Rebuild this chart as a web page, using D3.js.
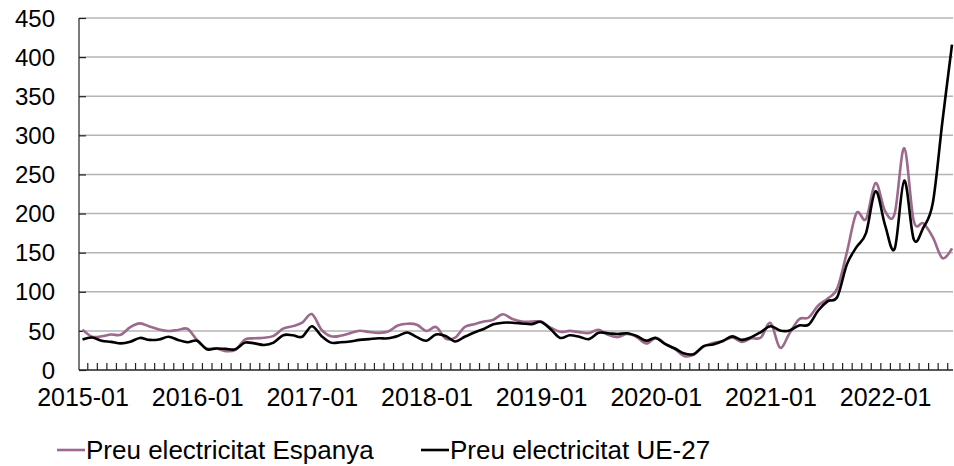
<!DOCTYPE html>
<html>
<head>
<meta charset="utf-8">
<script src="https://cdn.jsdelivr.net/npm/d3@7"></script>
<style>
  html, body { margin: 0; padding: 0; background: #fff; }
  svg { display: block; font-family: "Liberation Sans", Arial, sans-serif; }
</style>
</head>
<body>
<svg id="chart" width="954" height="466"></svg>
<script>
// Monthly categories, 2015-01 .. 2022-08
const years = [2015, 2016, 2017, 2018, 2019, 2020, 2021, 2022];
const monthNums = ["01","02","03","04","05","06","07","08","09","10","11","12"];
const categories = [];
years.forEach(y => monthNums.forEach(m => categories.push(y + "-" + m)));
categories.splice(92); // last month shown: 2022-08

const tickLabels = ["2015-01","2016-01","2017-01","2018-01","2019-01","2020-01","2021-01","2022-01"];
const yTicks = [0, 50, 100, 150, 200, 250, 300, 350, 400, 450];

// Spain, €/MWh
const spain = [
  51.6, 42.6, 43.1, 45.3, 45.1, 54.7, 59.6, 55.6, 51.9, 49.9, 51.2, 52.6,
  38.0, 27.5, 27.8, 24.1, 25.8, 38.9, 40.5, 41.2, 43.6, 52.8, 56.1, 60.5,
  71.5, 51.7, 43.2, 43.7, 47.1, 50.2, 48.6, 47.5, 49.2, 56.8, 59.2, 57.9,
  49.9, 54.9, 40.2, 41.5, 54.9, 58.5, 61.9, 64.3, 71.3, 65.1, 62.0, 61.8,
  61.9, 54.0, 48.8, 50.0, 48.4, 47.2, 51.5, 44.9, 42.1, 46.0, 42.2, 33.8,
  41.1, 33.5, 26.8, 17.7, 19.8, 30.0, 34.6, 36.8, 41.6, 36.0, 40.5, 41.5,
  60.2, 28.5, 47.0, 65.0, 67.1, 82.5, 91.5, 104.5, 150.5, 200.5, 193.0, 239.0,
  203.0, 200.0, 283.5, 190.5, 187.5, 169.5, 143.0, 155.5
];

// EU-27 average, €/MWh
const eu27 = [
  39.0, 41.5, 37.5, 36.0, 34.0, 36.0, 41.0, 38.5, 39.0, 42.5, 38.5, 35.5,
  37.5, 26.5, 27.5, 27.0, 26.5, 35.0, 34.0, 32.0, 35.0, 44.5, 44.5, 42.5,
  56.0, 43.5, 35.0, 35.5, 36.5, 38.5, 39.5, 40.5, 40.5, 43.5, 48.0, 42.0,
  37.5, 45.5, 43.5, 36.5, 42.5, 48.0, 52.5, 58.5, 60.5, 60.5, 59.5, 58.5,
  61.5, 52.0, 41.0, 44.5, 42.5, 39.5, 47.5, 47.0, 46.0, 47.0, 43.5, 37.5,
  41.0, 33.0, 27.5, 21.0, 20.5, 30.5, 32.5, 37.0, 43.0, 38.5, 42.0, 48.5,
  56.0, 50.5, 50.5, 57.0, 58.0, 76.0, 88.0, 93.5, 135.0, 157.0, 175.0, 228.5,
  185.0, 155.0, 242.0, 167.0, 182.0, 214.0, 318.0, 416.0
];

const series = [
  { name: "Preu electricitat Espanya", values: spain, color: "#9b6a8c" },
  { name: "Preu electricitat UE-27", values: eu27, color: "#000000" }
];

const svg = d3.select("#chart");
const plot = { left: 79, right: 953, top: 18, bottom: 370 };

const x = d3.scalePoint().domain(categories).range([82.5, 952]);
const xi = d3.scaleLinear().domain([0, categories.length - 1]).range([82.5, 952]);
const y = d3.scaleLinear().domain([0, 450]).range([plot.bottom, plot.top]);

// horizontal gridlines
svg.append("g")
  .selectAll("line")
  .data(yTicks.filter(d => d > 0))
  .join("line")
  .attr("x1", plot.left).attr("x2", plot.right)
  .attr("y1", d => y(d)).attr("y2", d => y(d))
  .attr("stroke", "#b4b4b4").attr("stroke-width", 1.5);

// y axis: inside ticks, labels on the left
const yAxis = svg.append("g")
  .attr("transform", `translate(${plot.left},0)`)
  .call(d3.axisRight(y).tickValues(yTicks).tickSize(7).tickFormat(""));
yAxis.select(".domain").remove();
yAxis.selectAll(".tick line").attr("stroke", "#222").attr("stroke-width", 1.2);

svg.append("g")
  .selectAll("text")
  .data(yTicks)
  .join("text")
  .attr("x", 55)
  .attr("y", d => y(d))
  .attr("dy", "0.36em")
  .attr("text-anchor", "end")
  .attr("font-size", 24)
  .attr("fill", "#000")
  .text(d => d);

svg.append("line")
  .attr("x1", plot.left).attr("x2", plot.left)
  .attr("y1", plot.top).attr("y2", plot.bottom)
  .attr("stroke", "#222").attr("stroke-width", 1.2);

// x axis: month ticks between categories, pointing up
const xMinor = svg.append("g")
  .attr("transform", `translate(0,${plot.bottom})`)
  .call(d3.axisTop(xi).tickValues(d3.range(0.5, categories.length - 1, 1)).tickSize(7).tickFormat(""));
xMinor.select(".domain").remove();
xMinor.selectAll(".tick line").attr("stroke", "#222").attr("stroke-width", 1.2);

svg.append("line")
  .attr("x1", plot.left).attr("x2", plot.right)
  .attr("y1", plot.bottom).attr("y2", plot.bottom)
  .attr("stroke", "#222").attr("stroke-width", 1.5);

const xAxis = svg.append("g")
  .attr("transform", `translate(0,${plot.bottom})`)
  .call(d3.axisBottom(x).tickValues(tickLabels).tickSize(0).tickPadding(18));
xAxis.select(".domain").remove();
xAxis.selectAll("text")
  .attr("font-size", 25)
  .attr("font-family", "Liberation Sans, Arial, sans-serif")
  .attr("fill", "#000");

// series lines (smoothed)
const line = d3.line()
  .x((d, i) => x(categories[i]))
  .y(d => y(d))
  .curve(d3.curveCatmullRom.alpha(0));

svg.append("g")
  .selectAll("path")
  .data(series)
  .join("path")
  .attr("d", d => line(d.values))
  .attr("fill", "none")
  .attr("stroke", d => d.color)
  .attr("stroke-width", 2.6)
  .attr("stroke-linejoin", "round");

// legend
const legendX = [57, 421];
const legend = svg.append("g")
  .selectAll("g")
  .data(series)
  .join("g")
  .attr("transform", (d, i) => `translate(${legendX[i]},450)`);
legend.append("line")
  .attr("x1", 0).attr("x2", 28)
  .attr("y1", 0).attr("y2", 0)
  .attr("stroke", d => d.color).attr("stroke-width", 2.6);
legend.append("text")
  .attr("x", 29)
  .attr("dy", "0.36em")
  .attr("font-size", 26)
  .attr("fill", "#000")
  .text(d => d.name);
</script>
</body>
</html>
